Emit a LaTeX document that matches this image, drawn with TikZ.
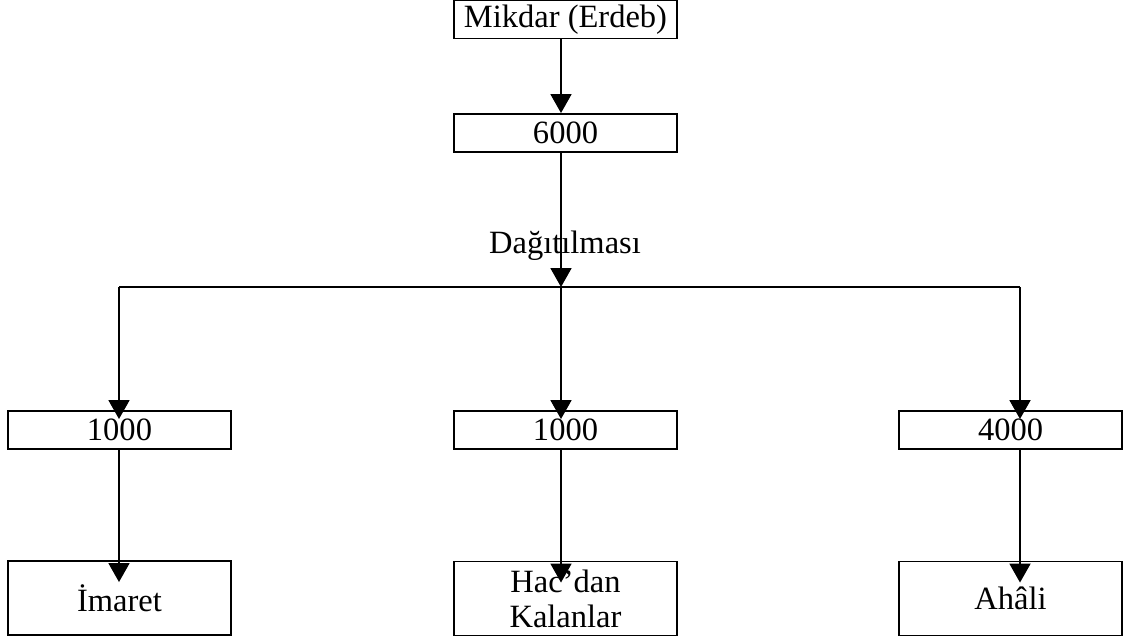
\documentclass[tikz,border=0pt]{standalone}
\usepackage{fontspec}
\setmainfont{Liberation Serif}
\usetikzlibrary{positioning,arrows.meta}
\tikzset{block/.style={draw,line width=1.1pt,minimum width=4.46cm,minimum height=0.76cm,inner sep=0pt,align=center,font=\fontsize{18.5}{20}\selectfont},
         tallblock/.style={block,minimum height=1.48cm},
         line/.style={line width=1.1pt}
}
\tikzstyle{arrow} = [line width=1.1pt,-{Triangle[length=0.38cm,width=0.42cm]}]

\begin{document}
\begin{tikzpicture}[x=0.02cm,y=-0.02cm]
\useasboundingbox (0,0) rectangle (1127,639);

\node[block] (qty) at (565.5,19.5) {Mikdar (Erdeb)};
\node[block] (total) at (565.5,133) {6000};
\node[draw=none,font=\fontsize{18.5}{20}\selectfont] (dist) at (565,246) {Dağıtılması};
\coordinate (split) at (561,287);
\coordinate (splitl) at (119,287);
\coordinate (splitr) at (1020,287);
\node[block] (imaretamt) at (119.5,430) {1000};
\node[block] (hacamt) at (565.5,430) {1000};
\node[block] (ahaliamt) at (1010.5,430) {4000};
\node[tallblock] (imaret) at (119.5,598) {İmaret};
\node[tallblock] (hac) at (565.5,598.5) {Hac’dan\\Kalanlar};
\node[tallblock] (ahali) at (1010.5,598.5) {Ahâli};
\draw[arrow] (qty.south -| split)--(total.north -| split);
\draw[arrow] (total.south -| split)--(split);
\draw[line] (splitl)--(splitr);
\draw[arrow,shorten >=-0.18cm] (splitl)--(imaretamt.north -| splitl);
\draw[arrow,shorten >=-0.18cm] (split)--(hacamt.north -| split);
\draw[arrow,shorten >=-0.18cm] (splitr)--(ahaliamt.north -| splitr);
\draw[arrow,shorten >=-0.44cm] (imaretamt.south -| splitl)--(imaret.north -| splitl);
\draw[arrow,shorten >=-0.44cm] (hacamt.south -| split)--(hac.north -| split);
\draw[arrow,shorten >=-0.44cm] (ahaliamt.south -| splitr)--(ahali.north -| splitr);

\end{tikzpicture}
\end{document}
